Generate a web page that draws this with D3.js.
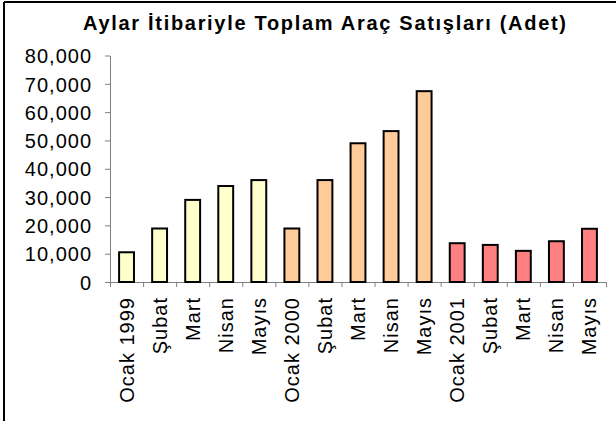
<!DOCTYPE html>
<html>
<head>
<meta charset="utf-8">
<script src="https://cdn.jsdelivr.net/npm/d3@7"></script>
<style>
  body { margin:0; background:#fff; }
  text { font-family: "Liberation Sans", Arial, sans-serif; fill:#000; }
</style>
</head>
<body>
<script>
var months = ['Ocak 1999','Şubat','Mart','Nisan','Mayıs',
              'Ocak 2000','Şubat','Mart','Nisan','Mayıs',
              'Ocak 2001','Şubat','Mart','Nisan','Mayıs'];
var sales = [10500, 18900, 29000, 33900, 36000,
             18900, 36000, 49000, 53300, 67400,
             13700, 13100, 11000, 14400, 18800];
var yearOf = [1999,1999,1999,1999,1999, 2000,2000,2000,2000,2000, 2001,2001,2001,2001,2001];
var yTicks = [0,10000,20000,30000,40000,50000,60000,70000,80000];
var yearColors = {1999:'#FFFFCC', 2000:'#FFCC99', 2001:'#FF8080'};

var svgW = 616, svgH = 421;
var m = {l:110, r:10, t:55.5, b:139};

var svg = d3.select('body').append('svg').attr('width', svgW).attr('height', svgH);

// frame (top and left only, rest is cut off)
svg.append('line').attr('x1',4).attr('y1',2).attr('x2',svgW).attr('y2',2).attr('stroke','#000').attr('stroke-width',2);
svg.append('line').attr('x1',4).attr('y1',2).attr('x2',4).attr('y2',svgH).attr('stroke','#000').attr('stroke-width',2);

svg.append('text').attr('x',83).attr('y',30)
   .attr('textLength',483).attr('lengthAdjust','spacing')
   .style('font-weight','bold').style('font-size','20px')
   .text('Aylar İtibariyle Toplam Araç Satışları (Adet)');

var x = d3.scaleBand().domain(d3.range(months.length)).range([m.l, 606]).paddingInner(0.55).paddingOuter(0.275);
var xb = d3.scaleLinear().domain([0, months.length]).range([m.l, 606]);
var y = d3.scaleLinear().domain([0, 80000]).range([282, 55.5]);

var fmt = d3.format(',');

// y axis
var ya = svg.append('g').attr('transform','translate('+m.l+',0)')
  .call(d3.axisLeft(y).tickValues(yTicks).tickFormat(fmt).tickSizeInner(5).tickSizeOuter(0).tickPadding(13));
ya.select('.domain').attr('stroke','#808080');
ya.selectAll('.tick line').attr('stroke','#808080');
ya.selectAll('.tick text').style('font-size','20px').style('letter-spacing','1px').attr('dy','0.36em');

// x axis line + boundary ticks
var xa = svg.append('g').attr('transform','translate(0,'+y(0)+')')
  .call(d3.axisBottom(xb).tickValues(d3.range(months.length+1)).tickSize(5).tickSizeOuter(0).tickFormat(''));
xa.select('.domain').attr('stroke','#808080');
xa.selectAll('.tick line').attr('stroke','#808080');

// bars
svg.append('g').selectAll('rect').data(sales).enter().append('rect')
  .attr('x', function(d,i){ return x(i); })
  .attr('y', function(d){ return y(d); })
  .attr('width', x.bandwidth())
  .attr('height', function(d){ return y(0) - y(d); })
  .attr('fill', function(d,i){ return yearColors[yearOf[i]]; })
  .attr('stroke','#000').attr('stroke-width',2);

// category labels
svg.append('g').selectAll('text').data(months).enter().append('text')
  .attr('transform', function(d,i){ return 'translate('+(x(i)+x.bandwidth()/2+7)+','+(y(0)+15)+') rotate(-90)'; })
  .attr('text-anchor','end')
  .style('font-size','20px').style('letter-spacing','1px')
  .text(function(d){ return d; });
</script>
</body>
</html>
